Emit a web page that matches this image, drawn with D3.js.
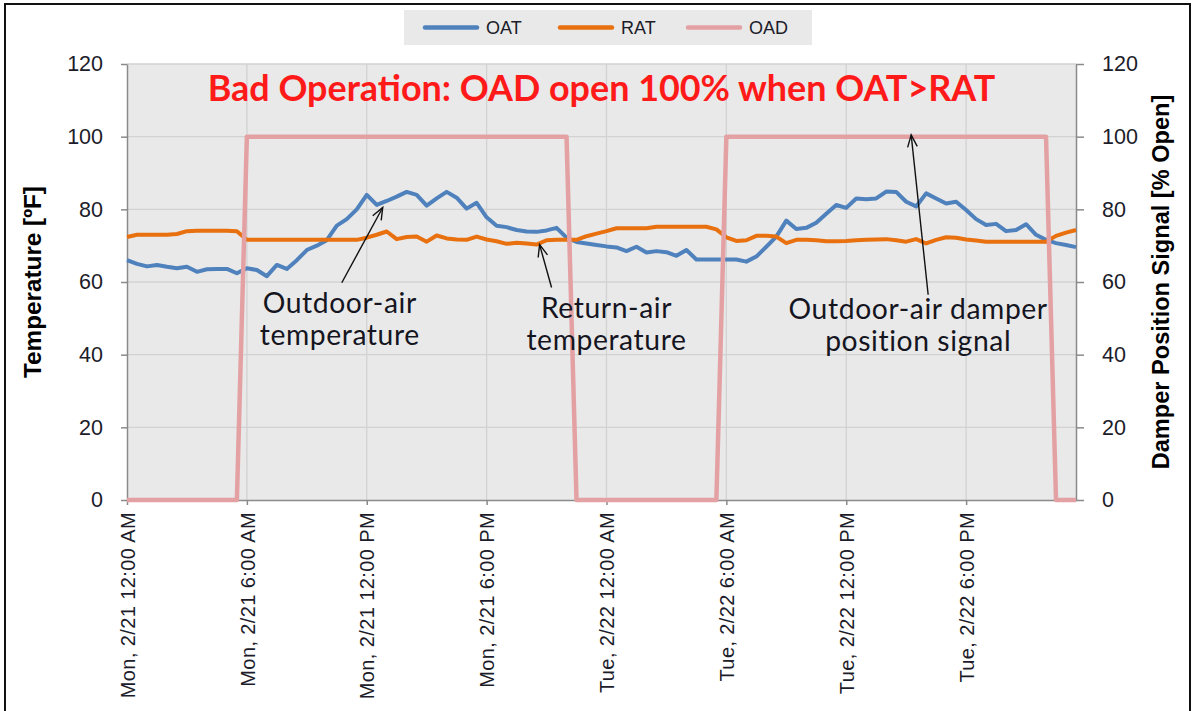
<!DOCTYPE html>
<html>
<head>
<meta charset="utf-8">
<script src="https://cdn.jsdelivr.net/npm/d3@7"></script>
<style>
  body { margin: 0; background: #fff; }
  text { font-family: "Liberation Sans", Arial, sans-serif; fill: #1c1c2a; }
</style>
</head>
<body>
<script>
// half-hourly trend samples, starting Mon 2/21 12:00 AM
var startTime = new Date(2011, 1, 21, 0, 0);
var stepMinutes = 30;

// outdoor-air temperature [F]
var oat = [66, 65, 64.3, 64.7, 64.2, 63.8, 64.2, 62.8, 63.5, 63.6,
           63.6, 62.4, 63.8, 63.3, 61.6, 64.7, 63.6, 66, 68.8, 70,
           71.5, 75.5, 77.3, 80, 84, 81.2, 82.3, 83.5, 84.8, 84,
           81, 83, 84.8, 83.2, 80.2, 81.8, 77.8, 75.5, 75.1, 74.3,
           73.9, 73.8, 74.2, 74.9, 72.2, 71, 70.6, 70.2, 69.8, 69.5,
           68.5, 69.7, 68.1, 68.5, 68.2, 67.2, 68.8, 66.2, 66.2, 66.2,
           66.2, 66.2, 65.6, 67, 69.7, 72.5, 76.9, 74.6, 74.9, 76.3,
           78.8, 81.2, 80.4, 83, 82.8, 83, 84.9, 84.8, 82.1, 80.8,
           84.4, 83, 81.6, 82.1, 79.8, 77.3, 75.7, 76, 74, 74.3,
           75.9, 73, 71.6, 70.7, 70.2, 69.6];

// return-air temperature [F]
var rat = [72.4, 73, 73, 73, 73, 73.2, 74, 74.1, 74.1, 74.1,
           74.1, 74, 71.6, 71.6, 71.6, 71.6, 71.6, 71.6, 71.6, 71.6,
           71.6, 71.6, 71.6, 71.6, 72.2, 73, 73.9, 71.8, 72.4, 72.5,
           71.1, 72.8, 72, 71.7, 71.6, 72.5, 71.7, 71.2, 70.5, 70.8,
           70.6, 70.3, 71.5, 71.6, 71.6, 71.6, 72.6, 73.3, 74, 74.8,
           74.8, 74.8, 74.8, 75.2, 75.2, 75.2, 75.2, 75.2, 75.2, 74.5,
           72.3, 71.3, 71.5, 72.7, 72.7, 72.5, 70.7, 71.6, 71.6, 71.5,
           71.2, 71.2, 71.3, 71.5, 71.6, 71.7, 71.8, 71.5, 71.1, 71.8,
           70.6, 71.6, 72.3, 72.2, 71.7, 71.4, 71.1, 71.1, 71.1, 71.1,
           71.1, 71.1, 71.1, 72.7, 73.6, 74.3];

// outdoor-air damper position signal [% open]
var oad = [0, 0, 0, 0, 0, 0, 0, 0, 0, 0,
           0, 0, 100, 100, 100, 100, 100, 100, 100, 100,
           100, 100, 100, 100, 100, 100, 100, 100, 100, 100,
           100, 100, 100, 100, 100, 100, 100, 100, 100, 100,
           100, 100, 100, 100, 100, 0, 0, 0, 0, 0,
           0, 0, 0, 0, 0, 0, 0, 0, 0, 0,
           100, 100, 100, 100, 100, 100, 100, 100, 100, 100,
           100, 100, 100, 100, 100, 100, 100, 100, 100, 100,
           100, 100, 100, 100, 100, 100, 100, 100, 100, 100,
           100, 100, 100, 0, 0, 0];

var seriesNames = ["OAT", "RAT", "OAD"];
var seriesColors = ["#4f81bd", "#e8700e", "#e4a1a3"];
var tempTicks = [0, 20, 40, 60, 80, 100, 120];
var damperTicks = [0, 20, 40, 60, 80, 100, 120];

var titleText = "Bad Operation: OAD open 100% when OAT>RAT";
// callouts: text lines, text baseline (hours, F), arrow tail and head (hours, F)
var notes = [
  {lines: ["Outdoor-air", "temperature"], at: [10.65, 51.5], tail: [10.75, 59.8], head: [12.8, 80.5]},
  {lines: ["Return-air", "temperature"], at: [24, 50.2], tail: [21.25, 58.5], head: [20.65, 70.3]},
  {lines: ["Outdoor-air damper", "position signal"], at: [39.6, 49.9], tail: [40.1, 56.5], head: [39.25, 100.5]}
];

var W = 1194, H = 711;
var margin = {top: 64, right: 118, bottom: 211, left: 127};

var svg = d3.select("body").append("svg")
    .attr("width", W)
    .attr("height", H);

// shrink/grow a text's font so its rendered width hits a target
function fitWidth(sel, size, target) {
  sel.style("font-size", size + "px");
  var w = sel.node().getComputedTextLength();
  var s = size * target / w;
  sel.style("font-size", s + "px");
  return s;
}

// outer frame of the original screenshot
svg.append("rect")
    .attr("x", 5).attr("y", 4)
    .attr("width", 1185).attr("height", 720)
    .attr("fill", "none")
    .attr("stroke", "#111")
    .attr("stroke-width", 2);

var times = oat.map(function(d, i) { return d3.timeMinute.offset(startTime, i * stepMinutes); });

var x = d3.scaleTime()
    .domain([startTime, times[times.length - 1]])
    .range([margin.left, W - margin.right]);
var y = d3.scaleLinear().domain([0, 120]).range([H - margin.bottom, margin.top]);
var y2 = d3.scaleLinear().domain([0, 120]).range([H - margin.bottom, margin.top]);

var x0 = x.range()[0], x1 = x.range()[1];
var yb = y(0), yt = y(120);

svg.append("rect")
    .attr("x", x0).attr("y", yt)
    .attr("width", x1 - x0).attr("height", yb - yt)
    .attr("fill", "#e9e9e9");

var hourTicks = x.ticks(d3.timeHour.every(6));

// gridlines
svg.append("g").selectAll("line").data(tempTicks.slice(1))
  .join("line")
    .attr("x1", x0).attr("x2", x1)
    .attr("y1", function(d) { return y(d); }).attr("y2", function(d) { return y(d); })
    .attr("stroke", "#d2d2d2").attr("stroke-width", 1.3);
svg.append("g").selectAll("line").data(hourTicks.slice(1))
  .join("line")
    .attr("x1", function(d) { return x(d); }).attr("x2", function(d) { return x(d); })
    .attr("y1", yt).attr("y2", yb)
    .attr("stroke", "#d2d2d2").attr("stroke-width", 1.3);

// axes
var fmt = d3.timeFormat("%a, %-m/%-d %-I:%M %p");

var gx = svg.append("g")
    .attr("transform", "translate(0," + yb + ")")
    .call(d3.axisBottom(x).tickValues(hourTicks).tickFormat(fmt).tickSize(5).tickSizeOuter(0));
gx.selectAll("text")
    .attr("transform", "rotate(-90)")
    .attr("x", -12).attr("y", 0).attr("dy", "0.36em")
    .style("text-anchor", "end")
    .style("font-size", "20px")
    .style("letter-spacing", "0.4px");

var gy = svg.append("g")
    .attr("transform", "translate(" + x0 + ",0)")
    .call(d3.axisLeft(y).tickValues(tempTicks).tickSize(6).tickSizeOuter(0).tickPadding(18));
gy.selectAll("text").style("font-size", "21.5px");

var gy2 = svg.append("g")
    .attr("transform", "translate(" + x1 + ",0)")
    .call(d3.axisRight(y2).tickValues(damperTicks).tickSize(8).tickSizeOuter(0).tickPadding(18));
gy2.selectAll("text").style("font-size", "21.5px");

svg.selectAll(".domain, .tick line").attr("stroke", "#8a8a8a").attr("stroke-width", 1.5);

// axis titles
var lt = svg.append("text")
    .attr("transform", "translate(41," + ((yt + yb) / 2) + ") rotate(-90)")
    .attr("text-anchor", "middle")
    .style("font-weight", "bold").style("fill", "#000")
    .text("Temperature [ºF]");
fitWidth(lt, 20, 192);
var rt = svg.append("text")
    .attr("transform", "translate(1169," + ((yt + yb) / 2) + ") rotate(-90)")
    .attr("text-anchor", "middle")
    .style("font-weight", "bold").style("fill", "#000")
    .text("Damper Position Signal [% Open]");
fitWidth(rt, 20, 375);

// series
var lineT = d3.line()
    .x(function(d, i) { return x(times[i]); })
    .y(function(d) { return y(d); });
var lineD = d3.line()
    .x(function(d, i) { return x(times[i]); })
    .y(function(d) { return y2(d); });

svg.append("path").datum(oat)
    .attr("d", lineT).attr("fill", "none")
    .attr("stroke", seriesColors[0]).attr("stroke-width", 4)
    .attr("stroke-linejoin", "round");
svg.append("path").datum(rat)
    .attr("d", lineT).attr("fill", "none")
    .attr("stroke", seriesColors[1]).attr("stroke-width", 4)
    .attr("stroke-linejoin", "round");
svg.append("path").datum(oad)
    .attr("d", lineD).attr("fill", "none")
    .attr("stroke", seriesColors[2]).attr("stroke-width", 4.5)
    .attr("stroke-linejoin", "round");

// title
var title = svg.append("text")
    .attr("x", (x0 + x1) / 2)
    .attr("y", 101)
    .attr("text-anchor", "middle")
    .style("font-family", "Lato, 'Open Sans', sans-serif")
    .style("font-weight", "bold")
    .style("fill", "#ff1a1a")
    .text(titleText);
fitWidth(title, 28, 788);

// callouts, all at one size sized so "temperature" is ~162px wide
var probe = svg.append("text")
    .style("font-family", "Lato, 'Open Sans', sans-serif")
    .style("letter-spacing", "0.6px")
    .text("temperature");
var noteSize = fitWidth(probe, 22, 162);
probe.remove();

notes.forEach(function(n) {
  var cx = x(d3.timeMinute.offset(startTime, n.at[0] * 60));
  var cy = y(n.at[1]);
  var t = svg.append("text")
      .attr("text-anchor", "middle")
      .style("font-family", "Lato, 'Open Sans', sans-serif")
      .style("letter-spacing", "0.6px")
      .style("font-size", noteSize + "px")
      .style("fill", "#15151f");
  n.lines.forEach(function(s, k) {
    t.append("tspan").attr("x", cx).attr("y", cy + k * 32).text(s);
  });

  var tx = x(d3.timeMinute.offset(startTime, n.tail[0] * 60)), ty = y(n.tail[1]);
  var hx = x(d3.timeMinute.offset(startTime, n.head[0] * 60)), hy = y(n.head[1]);
  svg.append("line")
      .attr("x1", tx).attr("y1", ty).attr("x2", hx).attr("y2", hy)
      .attr("stroke", "#111").attr("stroke-width", 1.4);
  var ang = Math.atan2(hy - ty, hx - tx), len = 13, spread = 0.38;
  var barb = [ang + Math.PI - spread, ang + Math.PI + spread].map(function(a) {
    return [hx + len * Math.cos(a), hy + len * Math.sin(a)];
  });
  svg.append("path")
      .attr("d", "M" + barb[0] + "L" + [hx, hy] + "L" + barb[1])
      .attr("fill", "none").attr("stroke", "#111").attr("stroke-width", 1.4);
});

// legend
var lg = svg.append("g");
lg.append("rect")
    .attr("x", 404).attr("y", 10)
    .attr("width", 408).attr("height", 35)
    .attr("fill", "#e9e9e9");
var legendX = [425, 560, 688];
seriesNames.forEach(function(name, i) {
  lg.append("line")
      .attr("x1", legendX[i]).attr("x2", legendX[i] + 52)
      .attr("y1", 27.5).attr("y2", 27.5)
      .attr("stroke", seriesColors[i]).attr("stroke-width", 4.5)
      .attr("stroke-linecap", "round");
  lg.append("text")
      .attr("x", legendX[i] + 61).attr("y", 34)
      .style("font-size", "18px")
      .text(name);
});
</script>
</body>
</html>
